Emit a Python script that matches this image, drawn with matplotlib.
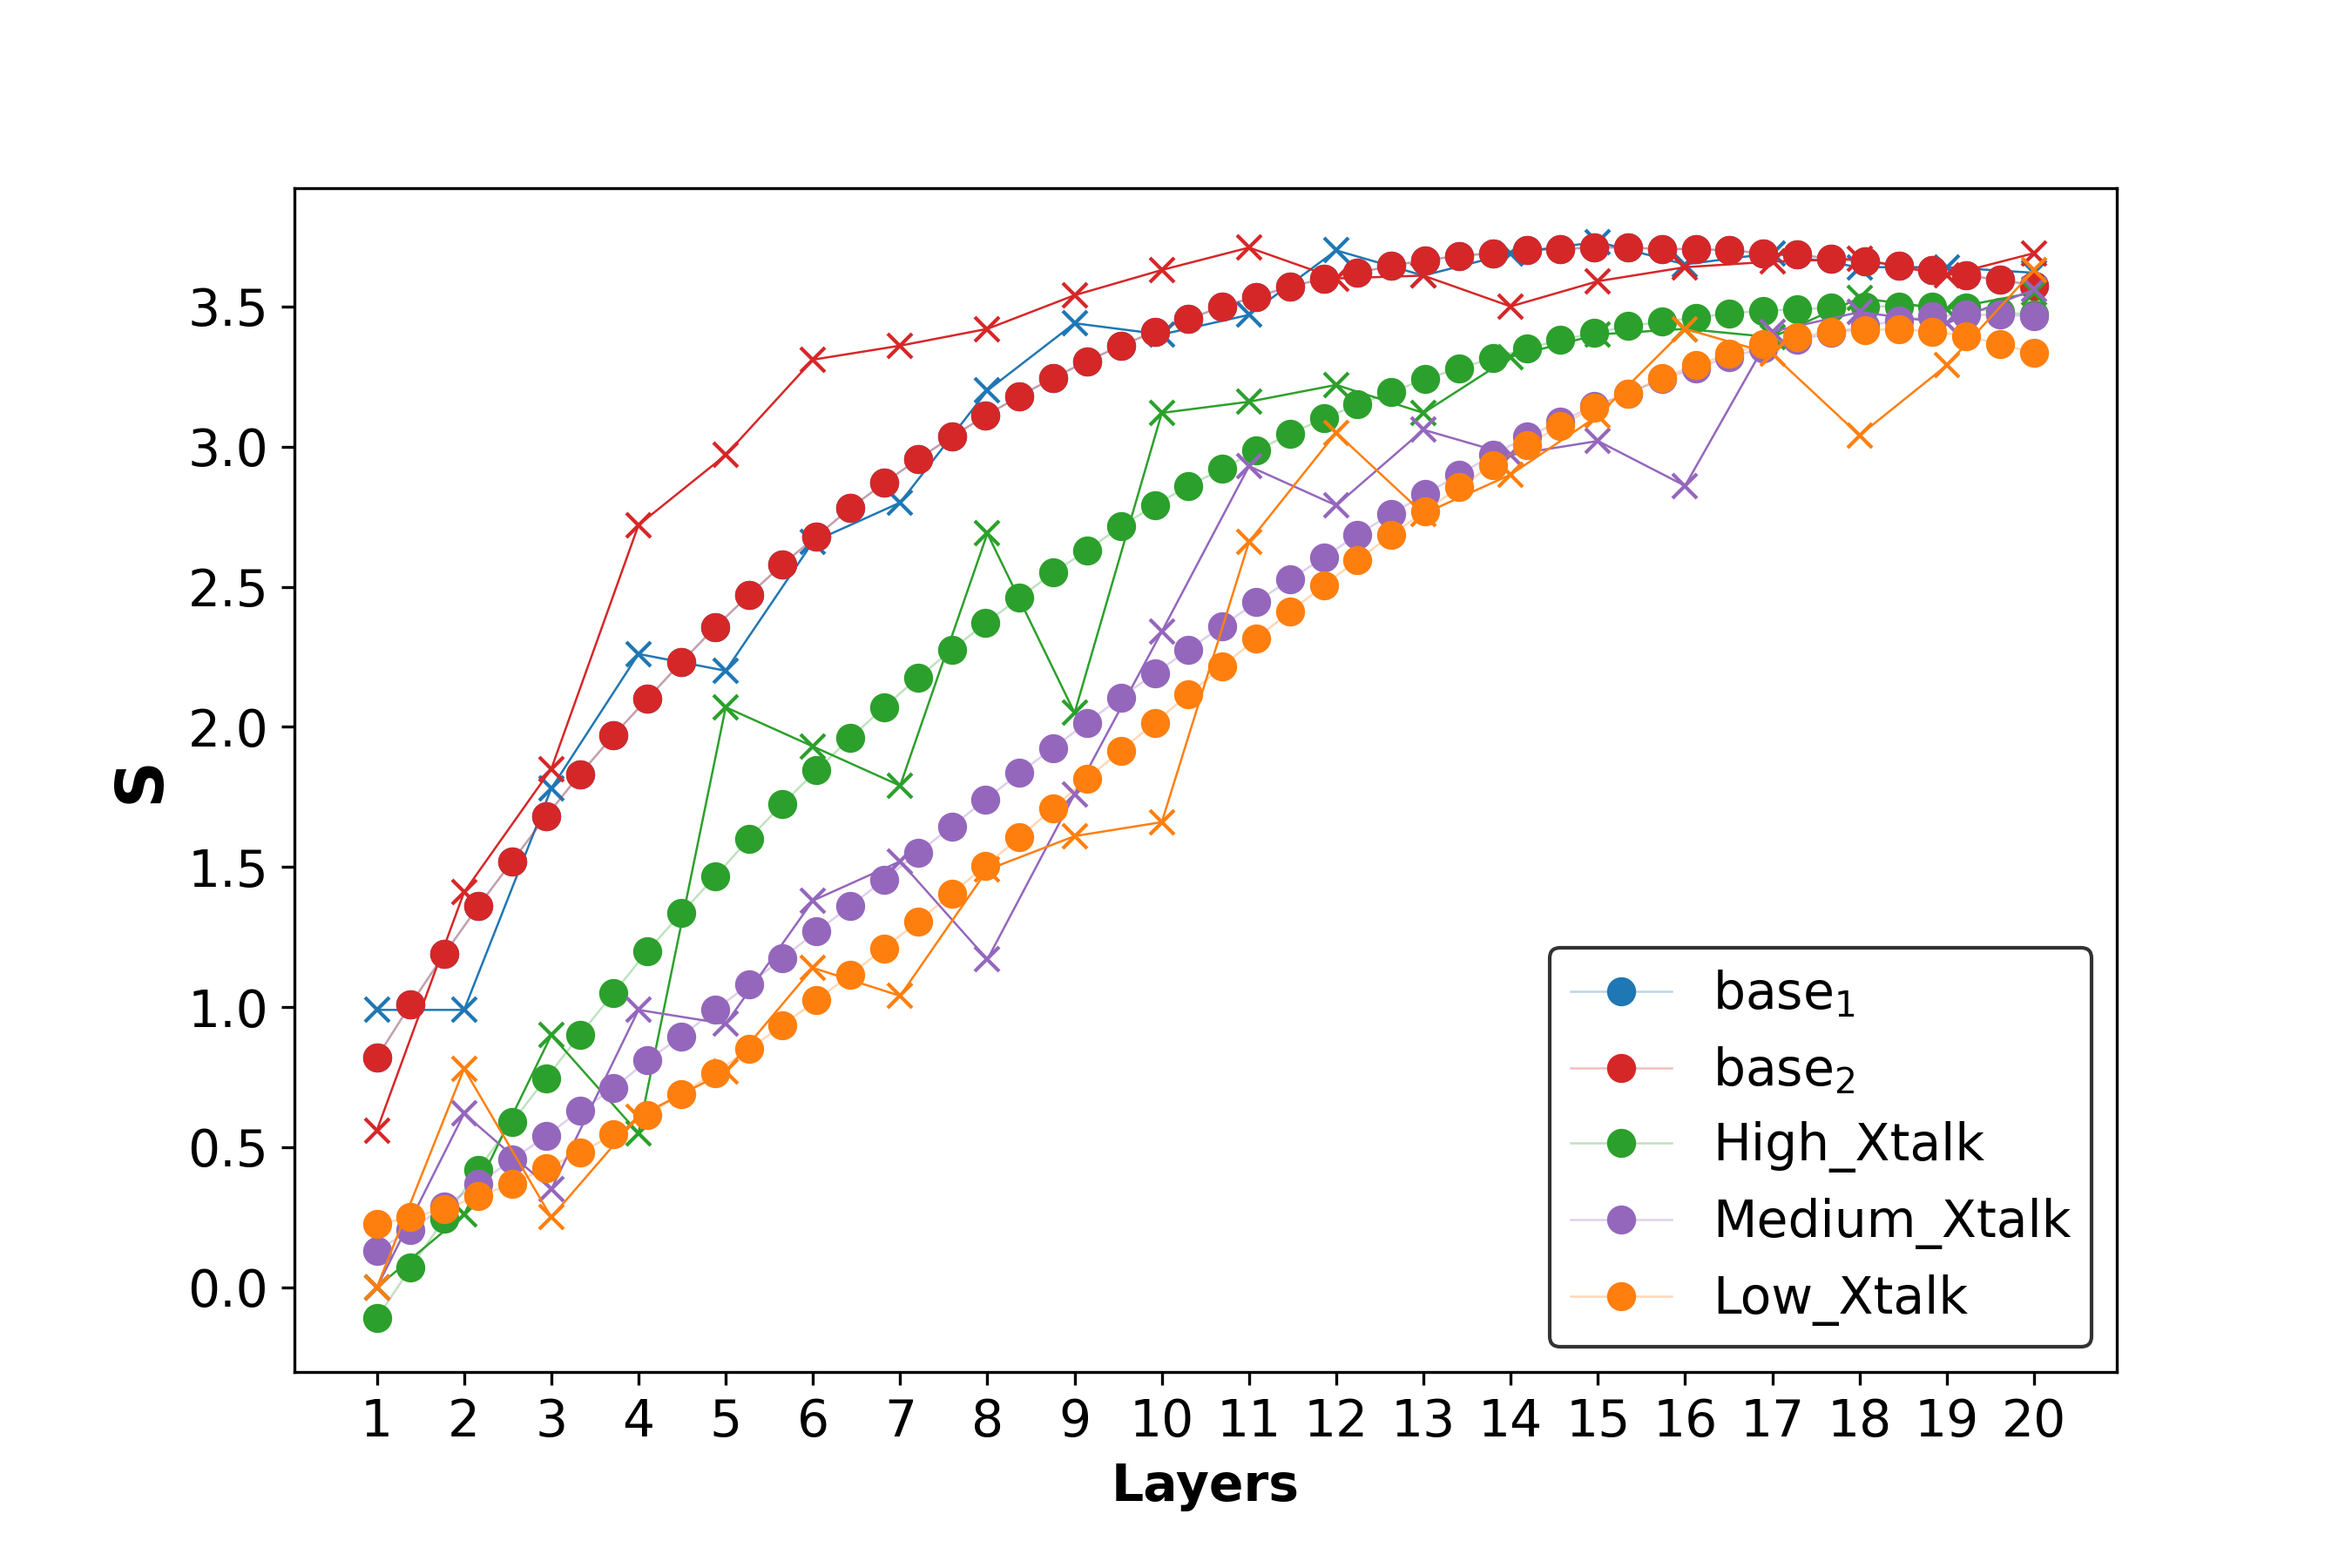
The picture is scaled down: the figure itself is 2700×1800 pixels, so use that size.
import numpy as np
import matplotlib
matplotlib.use("Agg")
import matplotlib.pyplot as plt
from matplotlib.colors import to_rgba

plt.rcParams['font.family'] = ['DejaVu Sans']
plt.rcParams['font.size'] = 14

# ---------------- data ----------------
layers = list(range(1, 21))
fit_layers = np.linspace(1, 20, 50)

labels = ['base$_1$', 'base$_2$', 'High_Xtalk', 'Medium_Xtalk', 'Low_Xtalk']
colors = ['tab:blue', 'tab:red', 'tab:green', 'tab:purple', 'tab:orange']

# measured values (x markers)
base1_meas = [0.99, 0.99, 1.78, 2.26, 2.20, 2.66, 2.80, 3.20, 3.44, 3.40,
              3.47, 3.70, 3.61, 3.69, 3.73, 3.65, 3.69, 3.64, 3.64, 3.62]
base2_meas = [0.56, 1.41, 1.85, 2.72, 2.97, 3.31, 3.36, 3.42, 3.54, 3.63,
              3.71, 3.60, 3.61, 3.50, 3.59, 3.64, 3.66, 3.67, 3.61, 3.69]
high_meas = [0.00, 0.26, 0.90, 0.55, 2.07, 1.93, 1.79, 2.69, 2.05, 3.12,
             3.16, 3.22, 3.12, 3.32, 3.40, 3.42, 3.39, 3.53, 3.49, 3.55]
medium_meas = [0.00, 0.62, 0.35, 0.99, 0.94, 1.38, 1.52, 1.17, 1.76, 2.34,
               2.93, 2.79, 3.06, 2.97, 3.02, 2.86, 3.41, 3.48, 3.44, 3.56]
low_meas = [0.00, 0.78, 0.25, 0.61, 0.77, 1.14, 1.04, 1.49, 1.61, 1.66,
            2.66, 3.05, 2.76, 2.90, 3.11, 3.42, 3.33, 3.04, 3.29, 3.63]

# fitted curves (dots, 50 points)
base1_fit = [0.82, 1.01, 1.19, 1.36, 1.52, 1.68, 1.83, 1.97, 2.10, 2.23,
             2.355, 2.47, 2.58, 2.68, 2.78, 2.87, 2.955, 3.035, 3.11, 3.18,
             3.245, 3.305, 3.36, 3.41, 3.455, 3.50, 3.535, 3.57, 3.60, 3.62,
             3.645, 3.665, 3.68, 3.69, 3.70, 3.705, 3.71, 3.71, 3.705, 3.705,
             3.70, 3.69, 3.685, 3.67, 3.66, 3.645, 3.63, 3.61, 3.595, 3.575]
base2_fit = [0.82, 1.01, 1.19, 1.36, 1.52, 1.68, 1.83, 1.97, 2.10, 2.23,
             2.355, 2.47, 2.58, 2.68, 2.78, 2.87, 2.955, 3.035, 3.11, 3.18,
             3.245, 3.305, 3.36, 3.41, 3.455, 3.50, 3.535, 3.57, 3.60, 3.62,
             3.645, 3.665, 3.68, 3.69, 3.70, 3.705, 3.71, 3.71, 3.705, 3.705,
             3.70, 3.69, 3.685, 3.67, 3.66, 3.645, 3.63, 3.61, 3.595, 3.575]
high_fit = [-0.11, 0.07, 0.245, 0.42, 0.59, 0.745, 0.90, 1.05, 1.20, 1.335,
            1.465, 1.60, 1.725, 1.845, 1.96, 2.07, 2.175, 2.275, 2.37, 2.46,
            2.55, 2.63, 2.715, 2.79, 2.86, 2.92, 2.985, 3.045, 3.10, 3.15,
            3.195, 3.24, 3.28, 3.315, 3.35, 3.38, 3.405, 3.43, 3.445, 3.46,
            3.475, 3.485, 3.49, 3.495, 3.50, 3.50, 3.50, 3.495, 3.48, 3.47]
medium_fit = [0.13, 0.205, 0.29, 0.37, 0.455, 0.54, 0.63, 0.71, 0.81, 0.895,
              0.99, 1.08, 1.175, 1.27, 1.36, 1.455, 1.55, 1.645, 1.74, 1.835,
              1.925, 2.015, 2.105, 2.19, 2.275, 2.36, 2.445, 2.525, 2.605, 2.685,
              2.76, 2.83, 2.90, 2.97, 3.035, 3.09, 3.145, 3.19, 3.24, 3.28,
              3.32, 3.35, 3.38, 3.405, 3.43, 3.45, 3.465, 3.47, 3.47, 3.465]
low_fit = [0.225, 0.25, 0.28, 0.325, 0.37, 0.425, 0.48, 0.545, 0.615, 0.69,
           0.765, 0.85, 0.935, 1.025, 1.115, 1.21, 1.305, 1.405, 1.505, 1.605,
           1.71, 1.815, 1.915, 2.015, 2.115, 2.215, 2.315, 2.41, 2.505, 2.595,
           2.685, 2.77, 2.855, 2.935, 3.005, 3.075, 3.14, 3.19, 3.245, 3.29,
           3.33, 3.365, 3.39, 3.41, 3.415, 3.42, 3.41, 3.395, 3.365, 3.335]

measured = [base1_meas, base2_meas, high_meas, medium_meas, low_meas]
fitted = [base1_fit, base2_fit, high_fit, medium_fit, low_fit]

# ---------------- plot ----------------
fig, ax = plt.subplots(figsize=(9, 6), dpi=300)
fig.subplots_adjust(left=0.125, right=0.9, top=0.88, bottom=0.125)

handles = []
for meas, fit, c, lab in zip(measured, fitted, colors, labels):
    ax.plot(layers, meas, marker='x', color=c, linewidth=0.6,
            markersize=6.5, markeredgewidth=1.0)
    h, = ax.plot(fit_layers, fit, marker='o', color=to_rgba(c, 0.3),
                 markerfacecolor=c, markeredgecolor=c, markersize=7,
                 linewidth=0.6, label=lab)
    handles.append(h)

ax.set_xticks(layers)
ax.set_xlabel('Layers', fontweight='bold', fontsize=14)
ax.set_ylabel('S', fontweight='bold', fontsize=18)
ax.legend(handles=handles, loc='lower right', edgecolor='black')

fig.savefig('out.png', dpi=300)
